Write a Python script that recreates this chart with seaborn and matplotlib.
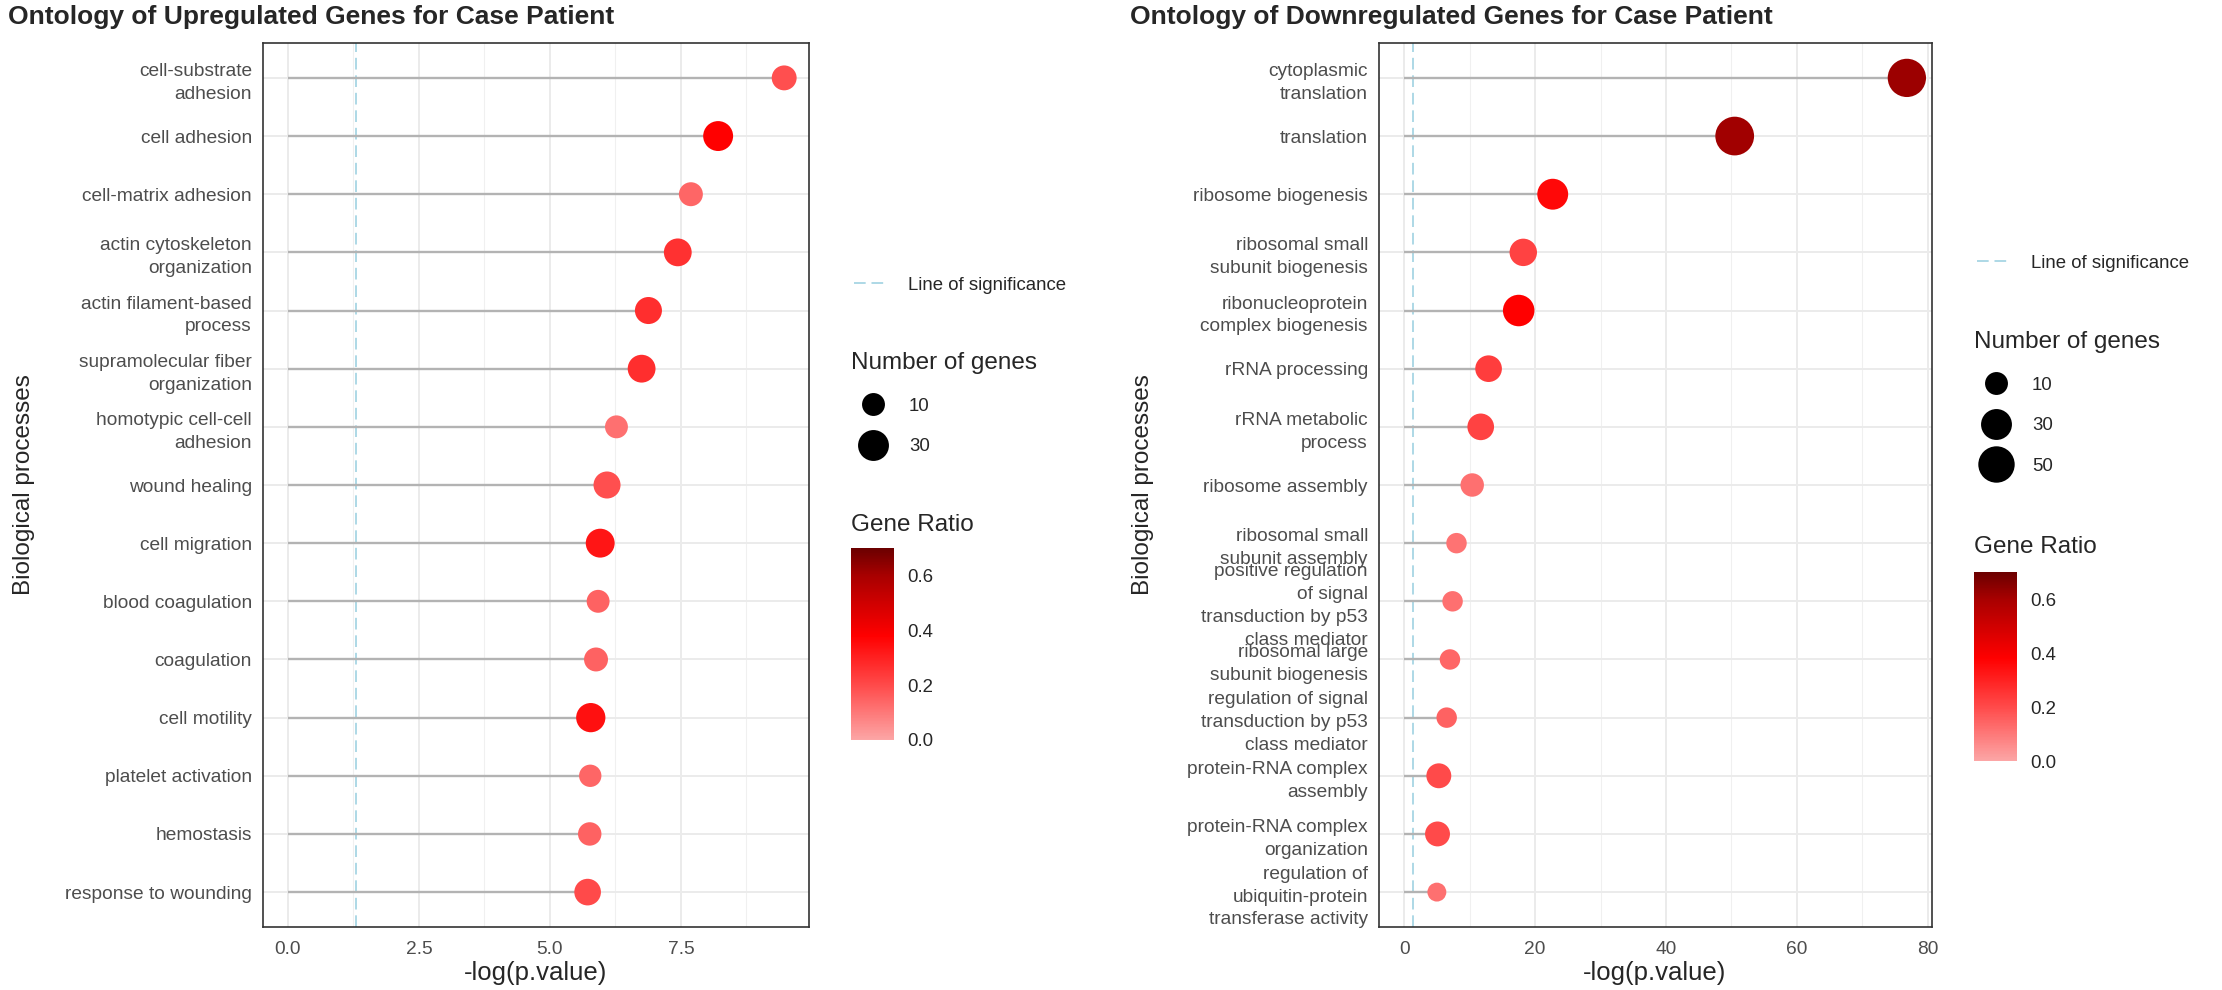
import numpy as np
import pandas as pd
import matplotlib
matplotlib.use('Agg')
import matplotlib.pyplot as plt
from matplotlib.colors import LinearSegmentedColormap, Normalize
from matplotlib.cm import ScalarMappable
from matplotlib.lines import Line2D
from matplotlib.ticker import MultipleLocator, FormatStrFormatter
import seaborn as sns

# ---- data ----
up_terms = [
    'cell-substrate\nadhesion', 'cell adhesion', 'cell-matrix adhesion',
    'actin cytoskeleton\norganization', 'actin filament-based\nprocess',
    'supramolecular fiber\norganization', 'homotypic cell-cell\nadhesion',
    'wound healing', 'cell migration', 'blood coagulation', 'coagulation',
    'cell motility', 'platelet activation', 'hemostasis', 'response to wounding',
]
up_logp = [9.47, 8.21, 7.69, 7.44, 6.88, 6.75, 6.27, 6.09, 5.96, 5.92, 5.88,
           5.78, 5.77, 5.76, 5.72]
up_genes = [14, 27, 12, 21, 19, 21, 10, 19, 24, 10, 12, 25, 9, 11, 18]
up_ratio = [0.19, 0.38, 0.14, 0.26, 0.27, 0.27, 0.12, 0.19, 0.33, 0.15, 0.15,
            0.34, 0.14, 0.15, 0.20]

down_terms = [
    'cytoplasmic\ntranslation', 'translation', 'ribosome biogenesis',
    'ribosomal small\nsubunit biogenesis', 'ribonucleoprotein\ncomplex biogenesis',
    'rRNA processing', 'rRNA metabolic\nprocess', 'ribosome assembly',
    'ribosomal small\nsubunit assembly',
    'positive regulation\nof signal\ntransduction by p53\nclass mediator',
    'ribosomal large\nsubunit biogenesis',
    'regulation of signal\ntransduction by p53\nclass mediator',
    'protein-RNA complex\nassembly', 'protein-RNA complex\norganization',
    'regulation of\nubiquitin-protein\ntransferase activity',
]
down_logp = [76.8, 50.5, 22.7, 18.2, 17.5, 12.9, 11.7, 10.4, 8.0, 7.4, 7.0,
             6.5, 5.3, 5.1, 5.0]
down_genes = [58, 60, 30, 20, 32, 18, 18, 11, 6, 6, 6, 6, 14, 14, 4]
down_ratio = [0.62, 0.61, 0.36, 0.22, 0.38, 0.23, 0.22, 0.12, 0.11, 0.12, 0.14,
              0.15, 0.20, 0.20, 0.12]

size_breaks_up = [10, 30]
size_breaks_down = [10, 30, 50]

SIG = -np.log10(0.05)

# ---- layout (pixels of a 2222x990 canvas) ----
W, H, DPI = 2222, 990, 100
sns.set_style('white')
plt.rcParams['font.family'] = ['Liberation Sans', 'DejaVu Sans']

ratio_cmap = LinearSegmentedColormap.from_list(
    'ratio', [(0.0, '#fca6a6'), (0.2 / 0.7, '#ff4a4a'), (0.38 / 0.7, '#ff0000'),
              (0.6 / 0.7, '#a80000'), (1.0, '#6b0000')])
ratio_norm = Normalize(0, 0.7)


def gene_area(n):
    d_px = 12 + 3.45 * np.sqrt(n)
    return (d_px * 72 / DPI) ** 2


def fx(px):
    return px / W


def fy(py):
    return 1 - py / H


def draw_panel(ax, terms, logp, genes, ratio, major, minor, fmt):
    df = pd.DataFrame({'term': terms, 'logp': logp, 'genes': genes, 'ratio': ratio})
    sns.scatterplot(data=df, x='logp', y='term', hue='ratio', size='genes',
                    palette=ratio_cmap, hue_norm=(0, 0.7),
                    sizes={g: gene_area(g) for g in set(genes)},
                    linewidth=0, legend=False, ax=ax, zorder=4)
    ax.hlines(df['term'], 0, df['logp'], color='#b3b3b3', lw=1.7, zorder=3)
    ax.axvline(SIG, color='#add8e6', lw=1.4, ls=(0, (6, 3)), zorder=2)

    rng = max(logp)
    ax.set_xlim(-0.05 * rng, rng * 1.05)
    ax.set_ylim(len(terms) - 0.4, -0.6)
    ax.xaxis.set_major_locator(MultipleLocator(major))
    ax.xaxis.set_minor_locator(MultipleLocator(minor))
    ax.xaxis.set_major_formatter(FormatStrFormatter(fmt))
    ax.set_axisbelow(True)
    ax.grid(which='major', color='#ebebeb', lw=1.4)
    ax.grid(which='minor', axis='x', color='#f0f0f0', lw=0.8)
    ax.tick_params(axis='both', which='major', length=4, width=1.2,
                   color='#333333', labelcolor='#4d4d4d', labelsize=13.8, pad=4)
    ax.tick_params(axis='x', which='minor', length=0)
    ax.tick_params(axis='x', pad=6)
    ax.set_xlabel('')
    ax.set_ylabel('')
    for lbl in ax.get_yticklabels():
        lbl.set_linespacing(1.45)
        lbl.set_multialignment('right')
    for s in ax.spines.values():
        s.set_color('#333333')
        s.set_linewidth(1.2)


def draw_legends(fig, x0, y_sig, y_size_top, breaks, y_ratio_title, cb_top, cb_bot):
    sig = Line2D([], [], color='#add8e6', lw=1.4, ls=(0, (6, 3)))
    fig.legend([sig], ['Line of significance'], loc='center left',
               bbox_to_anchor=(fx(x0 + 3), fy(y_sig)), frameon=False,
               fontsize=13.4, handlelength=1.8, handletextpad=1.1,
               borderpad=0, borderaxespad=0)

    handles = [Line2D([], [], ls='', marker='o', color='black', markeredgewidth=0,
                      markersize=np.sqrt(gene_area(b))) for b in breaks]
    fig.legend(handles, [str(b) for b in breaks], title='Number of genes',
               loc='upper left', bbox_to_anchor=(fx(x0), fy(y_size_top)),
               frameon=False, fontsize=13.4, title_fontsize=17.5, alignment='left',
               handlelength=2.33, handletextpad=0.78, labelspacing=1.27,
               borderpad=0, borderaxespad=0)

    fig.text(fx(x0), fy(y_ratio_title), 'Gene Ratio', fontsize=17.5, va='center')
    cax = fig.add_axes([fx(x0), fy(cb_bot), fx(43), (cb_bot - cb_top) / H])
    cb = fig.colorbar(ScalarMappable(norm=ratio_norm, cmap=ratio_cmap), cax=cax,
                      ticks=[0, 0.2, 0.4, 0.6], format='%.1f')
    cb.outline.set_visible(False)
    cax.tick_params(direction='in', length=6, width=1, color='white',
                    left=True, right=True, labelsize=13.4, pad=9.5)


fig = plt.figure(figsize=(W / DPI, H / DPI), dpi=DPI)
ax_up = fig.add_axes([fx(263), fy(927), fx(809 - 263), (927 - 43) / H])
ax_down = fig.add_axes([fx(1379), fy(927), fx(1932 - 1379), (927 - 43) / H])

draw_panel(ax_up, up_terms, up_logp, up_genes, up_ratio, 2.5, 1.25, '%.1f')
draw_panel(ax_down, down_terms, down_logp, down_genes, down_ratio, 20, 10, '%.0f')

fig.text(fx(8), fy(17), 'Ontology of Upregulated Genes for Case Patient',
         fontsize=19, fontweight='bold', va='center', ha='left')
fig.text(fx(1130), fy(17), 'Ontology of Downregulated Genes for Case Patient',
         fontsize=19, fontweight='bold', va='center', ha='left')

for xc, yc in [(24, 485), (1143, 485)]:
    fig.text(fx(xc), fy(yc), 'Biological processes', fontsize=17.5, rotation=90,
             va='center', ha='center')
for xc in [536, 1655]:
    fig.text(fx(xc), fy(973), '-log(p.value)', fontsize=18.5, va='center', ha='center')

draw_legends(fig, 851, 285, 352, size_breaks_up, 525, 548, 740)
draw_legends(fig, 1974, 263, 331, size_breaks_down, 547, 572, 761)

fig.savefig('out.png', dpi=DPI)
